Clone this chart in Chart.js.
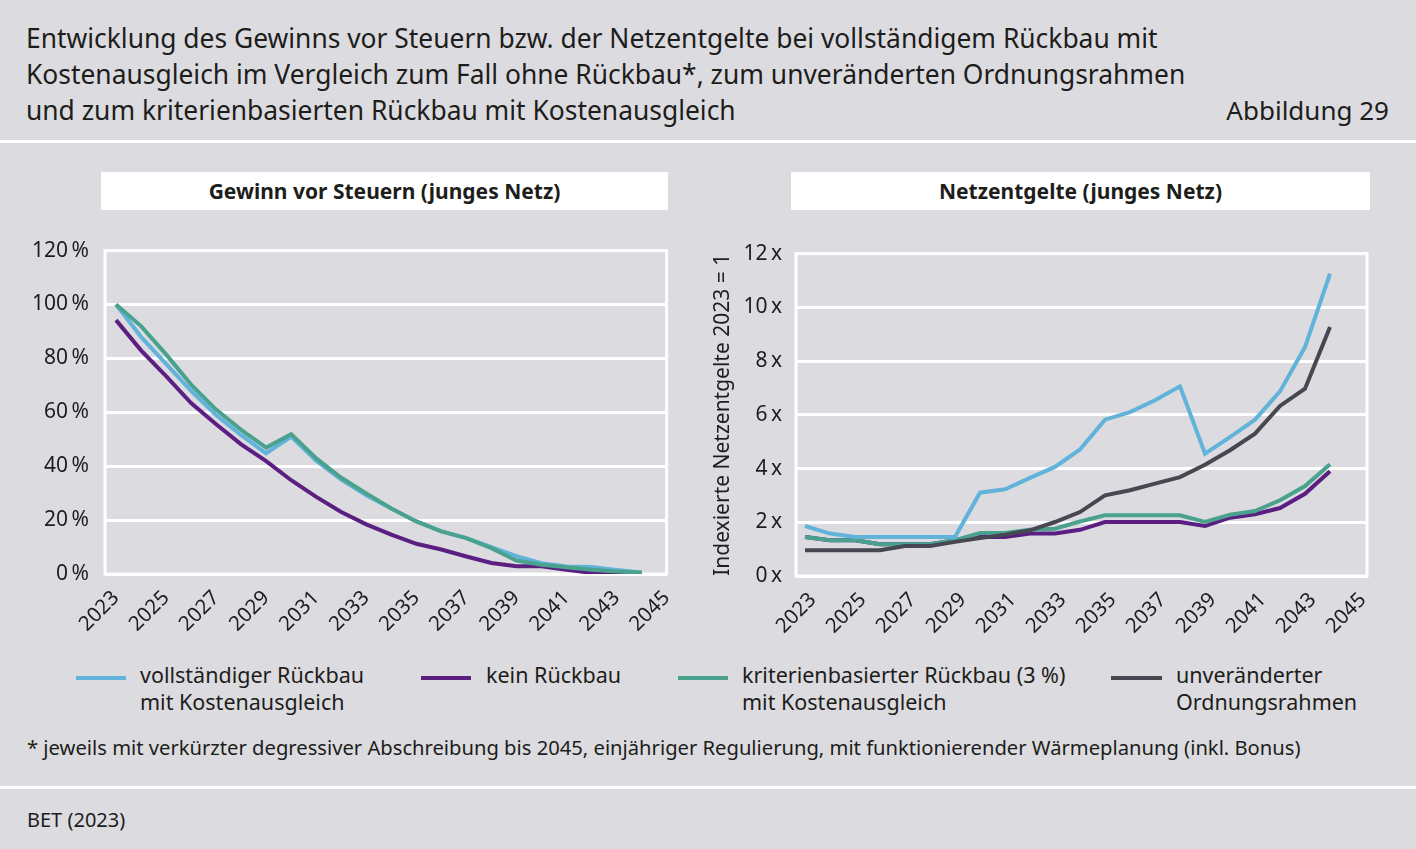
<!DOCTYPE html>
<html lang="de">
<head>
<meta charset="utf-8">
<title>Abbildung 29</title>
<script src="https://cdn.jsdelivr.net/npm/chart.js@4.4.1/dist/chart.umd.min.js"></script>
<style>
  body { margin: 0; width: 1416px; height: 849px; background: #dcdbe0; font-family: "Noto Sans", sans-serif; color: #1d1d1b; position: relative; overflow: hidden; }
  .title { position: absolute; left: 26px; top: 20px; font-size: 26.4px; line-height: 36px; white-space: nowrap; }
  .fig { position: absolute; right: 27px; top: 92px; font-size: 26px; line-height: 36px; }
  .rule { position: absolute; left: 0; width: 1416px; height: 3px; background: #fff; }
  .panel { position: absolute; top: 172px; height: 38px; background: #fff; font-weight: bold; font-size: 21px; line-height: 38px; text-align: center; }
  .box { position: absolute; }
  .leg { position: absolute; font-size: 21.5px; line-height: 27px; white-space: nowrap; }
  .sw { position: absolute; height: 4px; }
  .note { position: absolute; left: 27px; top: 733px; font-size: 20.2px; white-space: nowrap; }
  .src { position: absolute; left: 27px; top: 806px; font-size: 20px; }
</style>
</head>
<body>
<div class="title">Entwicklung des Gewinns vor Steuern bzw. der Netzentgelte bei vollständigem Rückbau mit<br>Kostenausgleich im Vergleich zum Fall ohne Rückbau*, zum unveränderten Ordnungsrahmen<br>und zum kriterienbasierten Rückbau mit Kostenausgleich</div>
<div class="fig">Abbildung 29</div>
<div class="rule" style="top:140px"></div>

<div class="panel" style="left:101px;width:567px">Gewinn vor Steuern (junges Netz)</div>
<div class="panel" style="left:791px;width:579px">Netzentgelte (junges Netz)</div>

<div class="box" style="left:0;top:222px;width:688px;height:428px"><canvas id="gewinnChart"></canvas></div>
<div class="box" style="left:700px;top:227px;width:700px;height:423px"><canvas id="entgeltChart"></canvas></div>

<div class="sw" style="left:76px;top:676px;width:50px;background:#62b3d9"></div>
<div class="leg" style="left:140px;top:661px">vollständiger Rückbau<br>mit Kostenausgleich</div>
<div class="sw" style="left:421px;top:676px;width:50px;background:#5b1f82"></div>
<div class="leg" style="left:486px;top:661px">kein Rückbau</div>
<div class="sw" style="left:678px;top:676px;width:50px;background:#4aa28e"></div>
<div class="leg" style="left:742px;top:661px">kriterienbasierter Rückbau (3 %)<br>mit Kostenausgleich</div>
<div class="sw" style="left:1111px;top:676px;width:51px;background:#474752"></div>
<div class="leg" style="left:1176px;top:661px">unveränderter<br>Ordnungsrahmen</div>

<div class="note">* jeweils mit verkürzter degressiver Abschreibung bis 2045, einjähriger Regulierung, mit funktionierender Wärmeplanung (inkl. Bonus)</div>
<div class="rule" style="top:786px"></div>
<div class="src">BET (2023)</div>

<script>
const years = [2023, 2024, 2025, 2026, 2027, 2028, 2029, 2030, 2031, 2032, 2033,
  2034, 2035, 2036, 2037, 2038, 2039, 2040, 2041, 2042, 2043, 2044];
const xTicks = [2023, 2025, 2027, 2029, 2031, 2033, 2035, 2037, 2039, 2041, 2043, 2045];

// Gewinn vor Steuern in %
const gewinnVoll = [100, 88, 78, 68, 59, 51.5, 44.8, 51, 42, 35, 29.2, 24.3, 19.5, 15.8, 13.3, 10, 6.6, 4, 2.8, 2.6, 1.5, 0.6];
const gewinnKein = [94.2, 83, 73.4, 63.4, 55.6, 48.1, 41.9, 34.8, 28.6, 23, 18.4, 14.6, 11.2, 9.1, 6.5, 4.1, 2.9, 2.9, 1.6, 0.4, 0.4, 0.4];
const gewinnKrit = [100, 92, 81.5, 70.3, 61, 53.5, 46.9, 51.9, 42.9, 35.7, 29.9, 24.3, 19.5, 15.8, 13.3, 9.6, 5, 3.4, 2.5, 1.6, 0.9, 0.6];
const gewinnTicks = [0, 20, 40, 60, 80, 100, 120];

// Netzentgelte, Index 2023 = 1
const entgeltVoll = [1.86, 1.58, 1.45, 1.45, 1.45, 1.45, 1.45, 3.1, 3.23, 3.65, 4.06, 4.71, 5.82, 6.1, 6.54, 7.06, 4.55, 5.17, 5.82, 6.87, 8.52, 11.25];
const entgeltKein = [1.45, 1.33, 1.33, 1.18, 1.18, 1.18, 1.33, 1.45, 1.45, 1.58, 1.58, 1.72, 2.01, 2.01, 2.01, 2.01, 1.86, 2.17, 2.3, 2.53, 3.06, 3.9];
const entgeltKrit = [1.45, 1.33, 1.33, 1.18, 1.18, 1.18, 1.33, 1.6, 1.6, 1.72, 1.76, 2.03, 2.26, 2.26, 2.26, 2.26, 2.01, 2.28, 2.42, 2.82, 3.35, 4.16];
const entgeltOrdn = [0.96, 0.96, 0.96, 0.96, 1.12, 1.12, 1.27, 1.41, 1.54, 1.7, 2.01, 2.38, 3.0, 3.19, 3.44, 3.68, 4.14, 4.68, 5.3, 6.33, 6.97, 9.27];
const entgeltTicks = [0, 2, 4, 6, 8, 10, 12];

const COL_VOLL = '#62b3d9';
const COL_KEIN = '#5b1f82';
const COL_KRIT = '#4aa28e';
const COL_ORDN = '#474752';
const TEXT = '#1d1d1b';

// white frame around the plot area
const framePlugin = {
  id: 'frame',
  beforeDatasetsDraw(chart) {
    const a = chart.chartArea, c = chart.ctx;
    c.save();
    c.strokeStyle = '#fff';
    c.lineWidth = 3;
    c.strokeRect(a.left, a.top, a.right - a.left, a.bottom - a.top);
    c.restore();
  }
};

function series(vals, color) {
  return {
    data: years.map((y, i) => ({ x: y, y: vals[i] })),
    borderColor: color,
    borderWidth: 4,
    pointRadius: 0,
    tension: 0,
    fill: false
  };
}

function makeOptions(o) {
  return {
    responsive: true,
    maintainAspectRatio: false,
    animation: false,
    layout: { padding: { top: 0, right: o.padRight, left: o.padLeft, bottom: 0 } },
    plugins: { legend: { display: false }, tooltip: { enabled: false } },
    scales: {
      x: {
        type: 'linear',
        min: o.xMin,
        max: o.xMax,
        afterBuildTicks: s => { s.ticks = xTicks.map(v => ({ value: v })); },
        afterFit: s => { s.height = o.xHeight; },
        grid: { display: false },
        border: { display: false },
        ticks: {
          autoSkip: false, minRotation: 45, maxRotation: 45, padding: 4,
          labelOffset: o.labelOffset,
          color: TEXT, font: { family: 'Noto Sans', size: 20.5 },
          callback: v => String(v)
        }
      },
      y: {
        min: o.ticks[0],
        max: o.ticks[o.ticks.length - 1],
        afterBuildTicks: s => { s.ticks = o.ticks.map(v => ({ value: v })); },
        afterFit: s => { s.width = o.yWidth; },
        grid: { color: '#fff', lineWidth: 3, drawTicks: false },
        border: { display: false },
        title: o.yTitle ? { display: true, text: o.yTitle, color: TEXT, font: { family: 'Noto Sans', size: 21 }, padding: { top: 0, bottom: 0 } } : { display: false },
        ticks: {
          padding: o.yPad,
          color: TEXT, font: { family: 'Noto Sans', size: 21 },
          callback: o.fmt
        }
      }
    }
  };
}

new Chart(document.getElementById('gewinnChart'), {
  type: 'line',
  data: { datasets: [series(gewinnKrit, COL_KRIT), series(gewinnVoll, COL_VOLL), series(gewinnKein, COL_KEIN)] },
  options: makeOptions({
    xMin: 2022.56, xMax: 2045, ticks: gewinnTicks, fmt: v => v + '\u202f%',
    padLeft: 0, padRight: 10, yWidth: 105, xHeight: 76, yPad: 16, labelOffset: 0
  }),
  plugins: [framePlugin]
});

new Chart(document.getElementById('entgeltChart'), {
  type: 'line',
  data: { datasets: [series(entgeltOrdn, COL_ORDN), series(entgeltVoll, COL_VOLL), series(entgeltKrit, COL_KRIT), series(entgeltKein, COL_KEIN)] },
  options: makeOptions({
    xMin: 2022.64, xMax: 2045.48, ticks: entgeltTicks, fmt: v => v + '\u202fx',
    padLeft: 10, padRight: 33, yWidth: 86, xHeight: 74, yPad: 14, labelOffset: 8,
    yTitle: 'Indexierte Netzentgelte 2023 = 1'
  }),
  plugins: [framePlugin]
});
</script>
</body>
</html>
